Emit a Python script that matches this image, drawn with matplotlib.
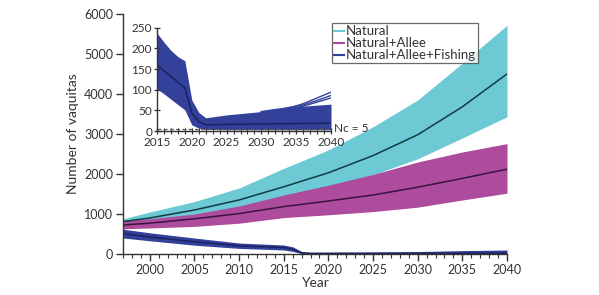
import matplotlib
matplotlib.use("Agg")
import matplotlib.pyplot as plt
from matplotlib.lines import Line2D
from matplotlib.ticker import MultipleLocator

plt.rcParams['font.family'] = ['Lato', 'DejaVu Sans']

# ---- data ----
years_nat = [1997, 2000, 2005, 2010, 2015, 2020, 2025, 2030, 2035, 2040]
nat_upper = [880, 1050, 1310, 1650, 2140, 2600, 3180, 3850, 4770, 5720]
nat_mean = [810, 900, 1100, 1350, 1680, 2030, 2460, 2980, 3680, 4500]
nat_lower = [780, 820, 900, 1080, 1400, 1700, 1980, 2380, 2900, 3430]

years_allee = [1997, 2000, 2005, 2010, 2015, 2020, 2025, 2030, 2035, 2040]
allee_upper = [840, 880, 1000, 1200, 1475, 1720, 1990, 2300, 2550, 2760]
allee_mean = [725, 770, 880, 1010, 1185, 1325, 1475, 1670, 1890, 2120]
allee_lower = [630, 650, 690, 770, 910, 980, 1060, 1170, 1350, 1520]

# fishing scenario as drawn in the main panel
years_fish_main = [1997, 2000, 2005, 2010, 2015, 2016, 2017, 2018, 2025, 2030, 2035, 2040]
fish_main_upper = [620, 530, 400, 275, 225, 180, 60, 40, 50, 60, 85, 100]
fish_main_mean = [510, 425, 305, 205, 160, 120, 30, 15, 15, 17, 18, 20]
fish_main_lower = [400, 330, 220, 140, 100, 65, 10, 4, 3, 3, 3, 3]

# fishing scenario as drawn in the inset
years_fish = [2015, 2016, 2017, 2018, 2019, 2020, 2021, 2022, 2025, 2030, 2035, 2040]
fish_upper = [237, 215, 195, 180, 170, 75, 45, 32, 39, 47, 59, 65]
fish_mean = [160, 146, 132, 118, 105, 43, 23, 15, 16, 17, 18, 19]
fish_lower = [102, 90, 77, 64, 51, 15, 7, 4, 3, 3, 3, 3]

# a few trajectories that stand above the band near the end
extra_years = [2030, 2032, 2034, 2036, 2038, 2040]
extra_a = [47, 52, 56, 66, 80, 94]
extra_b = [46, 50, 57, 63, 74, 86]
extra_c = [45, 49, 54, 60, 70, 80]

nc_value = 5
y_ticks_main = [0, 1000, 2000, 3000, 4000, 5000, 6000]
x_ticks_main = [2000, 2005, 2010, 2015, 2020, 2025, 2030, 2035, 2040]
y_ticks_inset = [0, 50, 100, 150, 200, 250]
x_ticks_inset = [2015, 2020, 2025, 2030, 2035, 2040]
legend_labels = ['Natural', 'Natural+Allee', 'Natural+Allee+Fishing']

C_NAT = '#6DC9D3'
C_ALLEE = '#AD4C9D'
C_FISH = '#34419B'
M_NAT = '#123C44'
M_ALLEE = '#3A1240'
M_FISH = '#1C2260'
TXT = '#333333'

fig = plt.figure(figsize=(5.99, 2.95), dpi=100)
ax = fig.add_axes([0.2053, 0.139, 0.6411, 0.8136])

ax.fill_between(years_nat, nat_lower, nat_upper, color=C_NAT, lw=0)
ax.plot(years_nat, nat_mean, color=M_NAT, lw=1.1)
ax.fill_between(years_allee, allee_lower, allee_upper, color=C_ALLEE, lw=0)
ax.plot(years_allee, allee_mean, color=M_ALLEE, lw=1.1)
ax.fill_between(years_fish_main, fish_main_lower, fish_main_upper, color=C_FISH, lw=0)
ax.plot(years_fish_main, fish_main_mean, color=M_FISH, lw=1.1)

ax.set_xlim(1997, 2040)
ax.set_ylim(0, 6000)
ax.set_xticks(x_ticks_main)
ax.set_yticks(y_ticks_main)
ax.xaxis.set_minor_locator(MultipleLocator(1))
for s in ['top', 'right']:
    ax.spines[s].set_visible(False)
for s in ['left', 'bottom']:
    ax.spines[s].set_color(TXT)
    ax.spines[s].set_linewidth(1.0)
ax.tick_params(axis='both', which='major', direction='out', length=5, width=1,
               color=TXT, labelcolor=TXT, labelsize=9, pad=2)
ax.tick_params(axis='x', which='minor', direction='out', length=3, width=0.8, color=TXT)
ax.set_xlabel('Year', fontsize=10, color=TXT)
ax.xaxis.set_label_coords(0.5, -0.095)
ax.set_ylabel('Number of vaquitas', fontsize=10, color=TXT, labelpad=4)

handles = [Line2D([], [], color=C_NAT, lw=1.5),
           Line2D([], [], color=C_ALLEE, lw=1.5),
           Line2D([], [], color=C_FISH, lw=1.5)]
leg = fig.legend(handles, legend_labels, loc='upper left',
                 bbox_to_anchor=(0.554, 0.921), fontsize=9.5, frameon=True,
                 fancybox=False, handlelength=0.8, handletextpad=0.1,
                 borderpad=0.15, labelspacing=0.0, borderaxespad=0)
leg.get_frame().set_edgecolor('#444444')
leg.get_frame().set_linewidth(0.9)
for t in leg.get_texts():
    t.set_color(TXT)

# ---- inset ----
ins = fig.add_axes([0.2621, 0.5559, 0.2905, 0.3502])
ins.patch.set_alpha(0)
ins.fill_between(years_fish, fish_lower, fish_upper, color=C_FISH, lw=0)
ins.plot(extra_years, extra_a, color=C_FISH, lw=1)
ins.plot(extra_years, extra_b, color=C_FISH, lw=1)
ins.plot(extra_years, extra_c, color=C_FISH, lw=1)
ins.plot(years_fish, fish_mean, color=M_FISH, lw=1.1)
ins.axhline(nc_value, color='#555555', lw=0.9, ls=(0, (3, 2)))
ins.text(2040.4, nc_value, 'Nc = 5', fontsize=8.5, color=TXT, va='center', ha='left')
ins.set_xlim(2015, 2040)
ins.set_ylim(0, 250)
ins.set_xticks(x_ticks_inset)
ins.set_yticks(y_ticks_inset)
ins.xaxis.set_minor_locator(MultipleLocator(1))
for s in ['top', 'right']:
    ins.spines[s].set_visible(False)
for s in ['left', 'bottom']:
    ins.spines[s].set_color(TXT)
    ins.spines[s].set_linewidth(1.0)
ins.tick_params(axis='both', which='major', direction='inout', length=5, width=0.9,
                color=TXT, labelcolor=TXT, labelsize=8.5, pad=1)
ins.tick_params(axis='x', which='major', pad=1.5)
ins.tick_params(axis='x', which='minor', direction='inout', length=4, width=0.8, color=TXT)

fig.savefig('out.png', dpi=100)
